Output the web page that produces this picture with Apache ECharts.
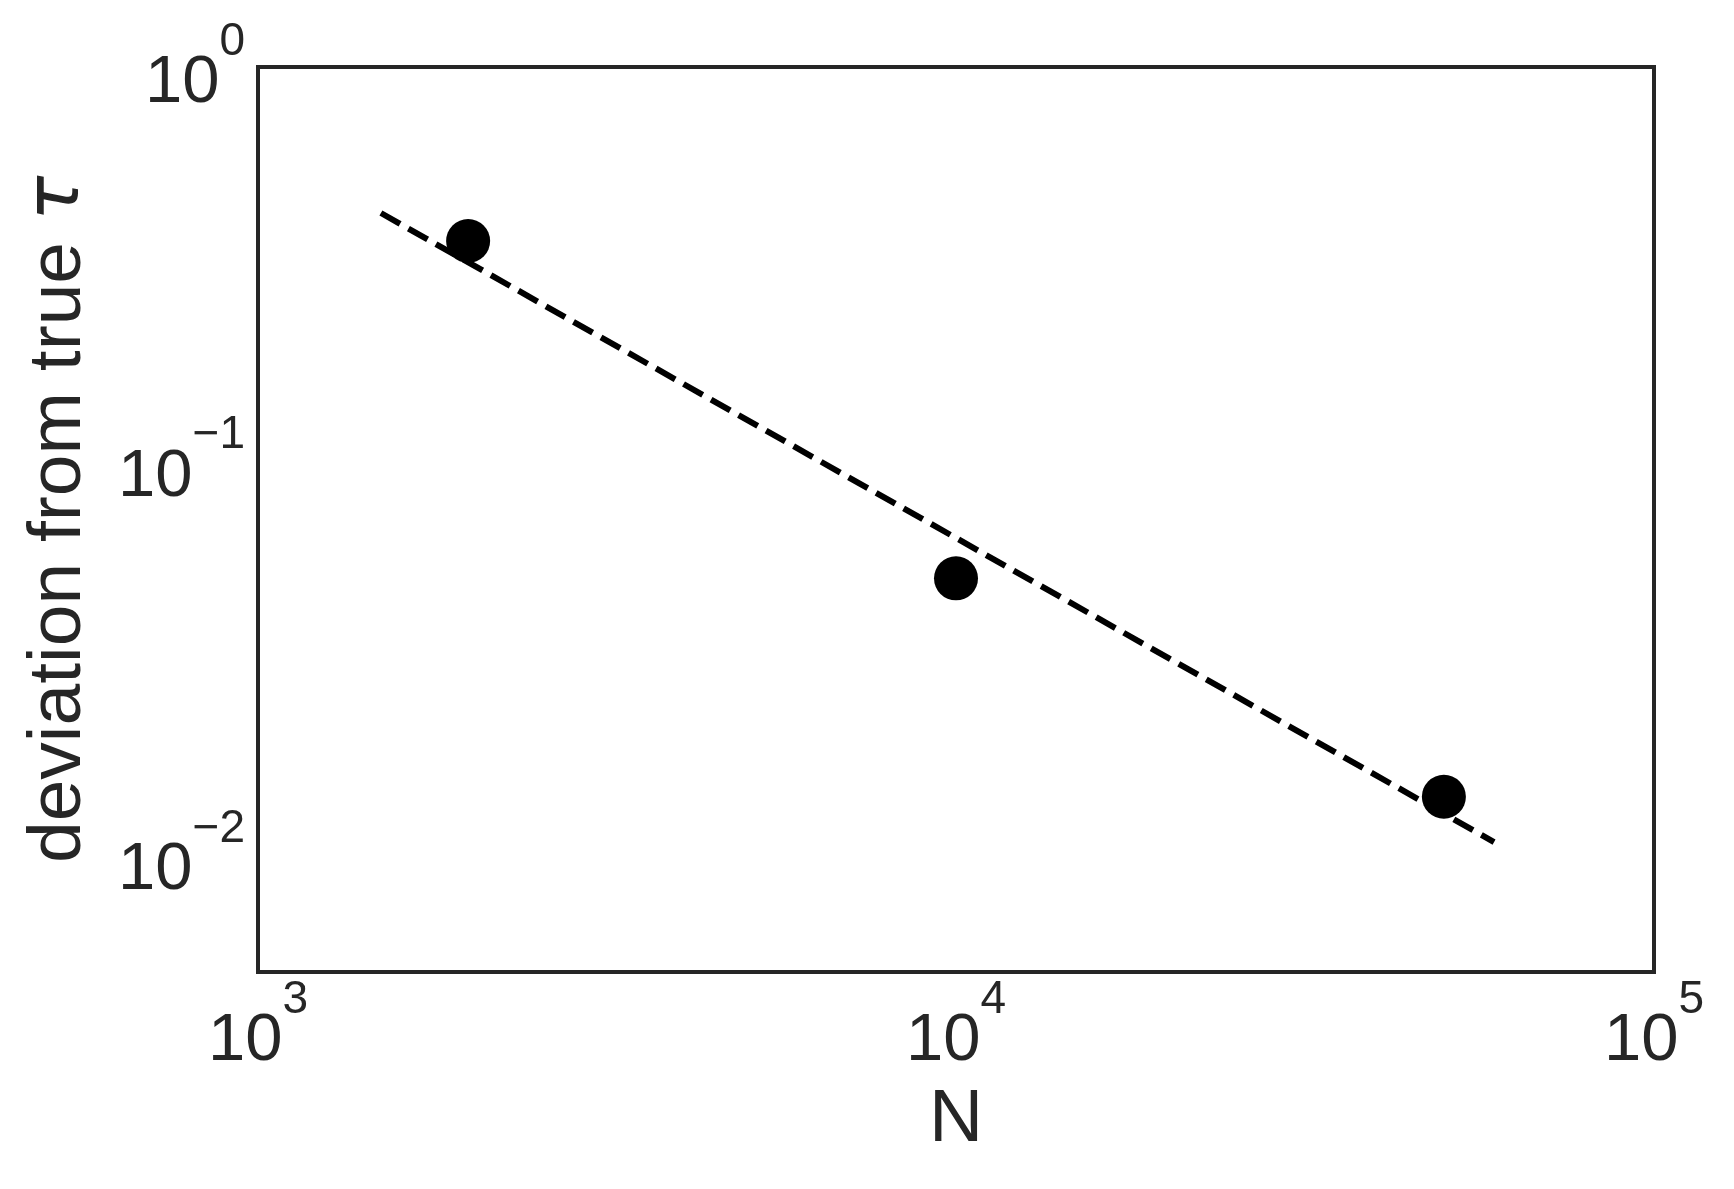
<!DOCTYPE html>
<html>
<head>
<meta charset="utf-8">
<script src="https://cdn.jsdelivr.net/npm/echarts@6/dist/echarts.min.js"></script>
<style>
html,body{margin:0;padding:0;background:#fff;}
#chart{width:1734px;height:1189px;}
</style>
</head>
<body>
<div id="chart"></div>
<script>
// ---- data ----
var sampleN = [2000, 10000, 50000];
var deviation = [0.361, 0.0501, 0.01395];
var fitN = [1500, 59000];
var fitDeviation = [0.4254, 0.0107];
var xTickExponents = [3, 4, 5];
var yTickExponents = [0, -1, -2];
var xAxisTitle = 'N';
var yAxisTitle = 'deviation from true ';
var yAxisSymbol = 'τ';

var TXT = '#262626';
var FONT = '"Liberation Sans", Arial, sans-serif';

function expLabel(v, allowed) {
  var l = Math.log10(v);
  var r = Math.round(l);
  if (Math.abs(l - r) > 1e-6 || allowed.indexOf(r) < 0) return '';
  var e = r < 0 ? '\u2212' + Math.abs(r) : String(r);
  return '{b|10}{e|' + e + '}';
}
var richTick = {
  b: {fontSize: 67, fontFamily: FONT, color: TXT, lineHeight: 98, verticalAlign: 'bottom'},
  e: {fontSize: 46, fontFamily: FONT, color: TXT, lineHeight: 30, verticalAlign: 'top'}
};

var chart = echarts.init(document.getElementById('chart'), null, {renderer: 'canvas'});
chart.setOption({
  animation: false,
  backgroundColor: '#ffffff',
  grid: {
    left: 258, right: 80, top: 67, bottom: 217,
    show: true, borderColor: TXT, borderWidth: 4, backgroundColor: 'transparent'
  },
  xAxis: {
    type: 'log', logBase: 10, min: 1000, max: 100000,
    axisLine: {show: false}, axisTick: {show: false}, splitLine: {show: false},
    minorTick: {show: false},
    axisLabel: {
      margin: 5, showMinLabel: true, showMaxLabel: true,
      formatter: function (v) { return expLabel(v, xTickExponents); },
      rich: richTick
    },
    name: xAxisTitle, nameLocation: 'middle', nameGap: 148,
    nameTextStyle: {fontSize: 75, fontFamily: FONT, color: TXT, verticalAlign: 'middle', lineHeight: 75}
  },
  yAxis: {
    type: 'log', logBase: 10, min: 0.005, max: 1,
    axisLine: {show: false}, axisTick: {show: false}, splitLine: {show: false},
    axisLabel: {
      margin: 13, showMinLabel: true, showMaxLabel: true, padding: [3, 0, 0, 0],
      formatter: function (v) { return expLabel(v, yTickExponents); },
      rich: richTick
    },
    name: '{t|' + yAxisTitle + '}{s|' + yAxisSymbol + '}', nameLocation: 'middle', nameGap: 199,
    nameTextStyle: {
      verticalAlign: 'middle',
      rich: {
        t: {fontSize: 75, fontFamily: FONT, color: TXT, lineHeight: 80},
        s: {fontSize: 75, fontFamily: '"DejaVu Sans", sans-serif', fontStyle: 'italic', color: TXT, lineHeight: 80}
      }
    }
  },
  series: [
    {
      type: 'line',
      data: fitN.map(function (n, i) { return [n, fitDeviation[i]]; }),
      showSymbol: false, symbol: 'none',
      lineStyle: {color: '#000000', width: 6, type: [22, 9.6], cap: 'butt', opacity: 1},
      z: 2
    },
    {
      type: 'scatter',
      data: sampleN.map(function (n, i) { return [n, deviation[i]]; }),
      symbol: 'circle', symbolSize: 44,
      itemStyle: {color: '#000000', opacity: 1},
      z: 3
    }
  ]
});
</script>
</body>
</html>
